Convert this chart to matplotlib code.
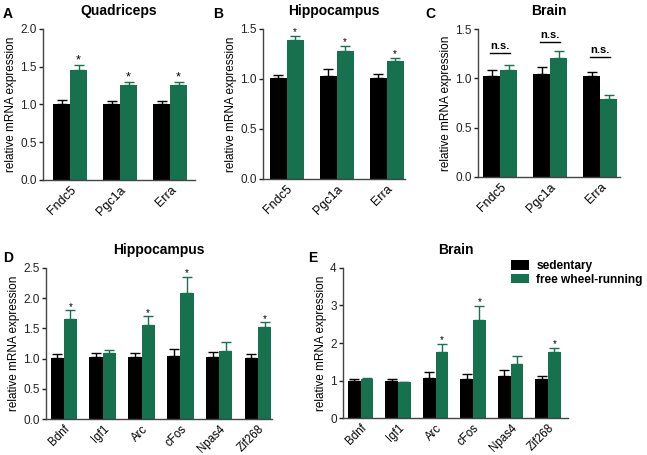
import numpy as np
import matplotlib
matplotlib.use('Agg')
import matplotlib.pyplot as plt
from matplotlib.patches import Patch

plt.rcParams['font.family'] = ['Liberation Sans', 'DejaVu Sans']

# ==================== data ====================
GENES_TOP = ['Fndc5', 'Pgc1a', 'Erra']
GENES_BOTTOM = ['Bdnf', 'Igf1', 'Arc', 'cFos', 'Npas4', 'Zif268']

# A: Quadriceps
quad_sed = [1.00, 1.00, 1.00]
quad_sed_err = [0.06, 0.05, 0.05]
quad_run = [1.46, 1.26, 1.26]
quad_run_err = [0.06, 0.04, 0.04]
quad_sig = ['*', '*', '*']

# B: Hippocampus
hip_sed = [1.01, 1.03, 1.01]
hip_sed_err = [0.03, 0.07, 0.04]
hip_run = [1.39, 1.28, 1.18]
hip_run_err = [0.04, 0.05, 0.03]
hip_sig = ['*', '*', '*']

# C: Brain
brain_sed = [1.02, 1.04, 1.02]
brain_sed_err = [0.07, 0.08, 0.05]
brain_run = [1.09, 1.21, 0.79]
brain_run_err = [0.05, 0.07, 0.04]
brain_ns_y = [1.26, 1.37, 1.22]

# D: Hippocampus (activity genes)
hip2_sed = [1.01, 1.03, 1.02, 1.05, 1.03, 1.01]
hip2_sed_err = [0.07, 0.07, 0.08, 0.11, 0.08, 0.07]
hip2_run = [1.66, 1.10, 1.55, 2.08, 1.13, 1.53]
hip2_run_err = [0.14, 0.04, 0.15, 0.27, 0.15, 0.07]
hip2_sig = ['*', '', '*', '*', '', '*']

# E: Brain (activity genes)
brain2_sed = [1.00, 1.00, 1.07, 1.04, 1.11, 1.03]
brain2_sed_err = [0.03, 0.03, 0.16, 0.13, 0.17, 0.10]
brain2_run = [1.03, 0.96, 1.77, 2.60, 1.43, 1.75]
brain2_run_err = [0.03, 0.01, 0.20, 0.39, 0.22, 0.12]
brain2_sig = ['', '', '*', '*', '', '*']

GREEN = '#17704e'
BLACK = '#000000'


def draw_panel(ax, genes, sed, sed_err, run, run_err, ylim, yticks, fmt,
               xlim, width, title, sig=None, star_size=9, xlab_size=9):
    x = np.arange(len(genes))
    ax.bar(x - width / 2, sed, width, color=BLACK)
    ax.bar(x + width / 2, run, width, color=GREEN)
    ax.errorbar(x - width / 2, sed, yerr=[np.zeros(len(sed)), sed_err],
                fmt='none', ecolor=BLACK, elinewidth=1, capsize=3.5, capthick=1)
    ax.errorbar(x + width / 2, run, yerr=[np.zeros(len(run)), run_err],
                fmt='none', ecolor=GREEN, elinewidth=1, capsize=3.5, capthick=1)
    if sig is not None:
        for i, s in enumerate(sig):
            if s:
                ax.annotate(s, (x[i] + width / 2, run[i] + run_err[i]),
                            xytext=(0, -1), textcoords='offset points',
                            ha='center', va='bottom', fontsize=star_size)
    ax.set_xlim(*xlim)
    ax.set_ylim(*ylim)
    ax.set_yticks(yticks)
    ax.set_yticklabels([fmt.format(t) for t in yticks])
    ax.set_xticks(x)
    ax.set_xticklabels(genes, rotation=45, ha='right', rotation_mode='anchor')
    ax.tick_params(axis='x', length=0, pad=3, labelsize=xlab_size)
    ax.tick_params(axis='y', length=3, width=1, pad=1.5, labelsize=8.5, colors='#222222')
    for side in ['top', 'right']:
        ax.spines[side].set_visible(False)
    for side in ['left', 'bottom']:
        ax.spines[side].set_linewidth(1)
        ax.spines[side].set_color('#444444')
    ax.set_ylabel('relative mRNA expression', fontsize=8.5, labelpad=2)
    ax.set_title(title, fontsize=10, fontweight='bold', pad=10)


fig = plt.figure(figsize=(6.47, 4.55), dpi=100)

axA = fig.add_axes([0.0665, 0.6044, 0.235, 0.332])
axB = fig.add_axes([0.4065, 0.6066, 0.2195, 0.3297])
axC = fig.add_axes([0.7388, 0.6110, 0.2195, 0.3250])
axD = fig.add_axes([0.0711, 0.0791, 0.3493, 0.3320])
axE = fig.add_axes([0.5300, 0.0813, 0.3478, 0.3297])

draw_panel(axA, GENES_TOP, quad_sed, quad_sed_err, quad_run, quad_run_err,
           (0, 2.0), [0, 0.5, 1.0, 1.5, 2.0], '{:.1f}', (-0.54, 2.5), 0.34,
           'Quadriceps', quad_sig, star_size=9)
draw_panel(axB, GENES_TOP, hip_sed, hip_sed_err, hip_run, hip_run_err,
           (0, 1.5), [0, 0.5, 1.0, 1.5], '{:.1f}', (-0.47, 2.37), 0.34,
           'Hippocampus', hip_sig, star_size=7)
draw_panel(axC, GENES_TOP, brain_sed, brain_sed_err, brain_run, brain_run_err,
           (0, 1.5), [0, 0.5, 1.0, 1.5], '{:.1f}', (-0.44, 2.4), 0.34,
           'Brain')
draw_panel(axD, GENES_BOTTOM, hip2_sed, hip2_sed_err, hip2_run, hip2_run_err,
           (0, 2.5), [0, 0.5, 1.0, 1.5, 2.0, 2.5], '{:.1f}', (-0.46, 5.36), 0.34,
           'Hippocampus', hip2_sig, star_size=7, xlab_size=8.3)
draw_panel(axE, GENES_BOTTOM, brain2_sed, brain2_sed_err, brain2_run, brain2_run_err,
           (0, 4), [0, 1, 2, 3, 4], '{:.0f}', (-0.47, 5.53), 0.34,
           'Brain', brain2_sig, star_size=7, xlab_size=8.3)

# n.s. brackets on panel C
for i, yv in enumerate(brain_ns_y):
    axC.plot([i - 0.2, i + 0.2], [yv, yv], color=BLACK, lw=1)
    axC.text(i, yv + 0.02, 'n.s.', ha='center', va='bottom', fontsize=8,
             fontweight='bold')

# panel letters (figure coords)
for letter, (lx, ly) in {'A': (3, 14), 'B': (213, 14), 'C': (425, 14),
                         'D': (3, 258), 'E': (308, 258)}.items():
    fig.text(lx / 647, 1 - ly / 455, letter, fontsize=10, fontweight='bold',
             ha='left', va='center')

# legend
handles = [Patch(facecolor=BLACK, label='sedentary'),
           Patch(facecolor=GREEN, label='free wheel-running')]
fig.legend(handles=handles, loc='upper left', bbox_to_anchor=(0.79, 0.428),
           frameon=False, prop={'weight': 'bold', 'size': 8.6},
           handlelength=1.5, handleheight=0.9, handletextpad=0.6,
           labelspacing=0.1, borderaxespad=0, borderpad=0)

fig.savefig('out.png', dpi=100)
